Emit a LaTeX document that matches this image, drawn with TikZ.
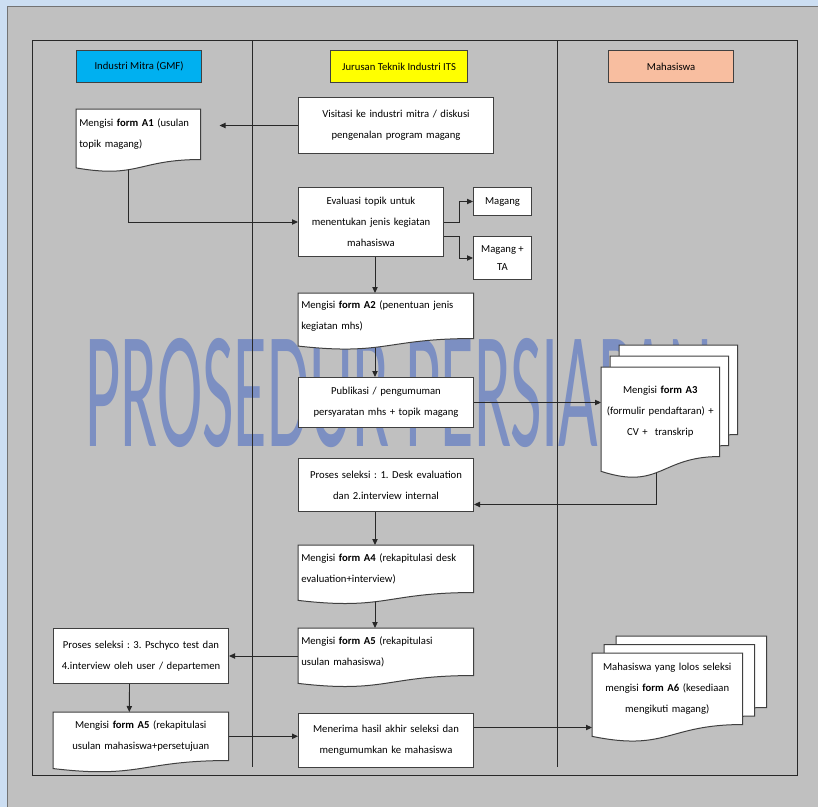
\documentclass[tikz,border=0pt]{standalone}
\usepackage{fontspec}
\setmainfont{Carlito}
\usetikzlibrary{calc,arrows.meta}

\definecolor{pagegrey}{RGB}{192,192,192}
\definecolor{rulerblue}{RGB}{204,222,242}
\definecolor{wmblue}{RGB}{124,143,194}
\definecolor{boxline}{RGB}{64,64,64}
\definecolor{flowline}{RGB}{40,40,40}
\definecolor{hdrcyan}{RGB}{0,176,240}
\definecolor{hdryellow}{RGB}{255,255,0}
\definecolor{hdrpeach}{RGB}{248,190,160}

\pgfdeclarelayer{wmark}
\pgfdeclarelayer{lines}
\pgfdeclarelayer{docs}
\pgfsetlayers{wmark,lines,docs,main}

\newcommand{\flowfont}{\fontsize{8}{15.8}\selectfont\frenchspacing}

\tikzset{
  boxw/.code={\pgfmathsetlengthmacro\boxtw{(#1-6)*0.75pt}\tikzset{text width/.expand once=\boxtw}},
  boxh/.style={minimum height={#1*0.75pt}},
  procbox/.style={draw=boxline, line width=0.75pt, fill=white, align=center, anchor=north west,
    inner xsep=2.25pt, inner ysep=2pt, font=\flowfont},
  docnode/.style={anchor=north west, inner xsep=2.25pt, inner ysep=2pt, font=\flowfont},
  docline/.style={draw=boxline, line width=0.75pt, fill=white},
  header/.style={draw=black!75, line width=0.9pt, anchor=north west, minimum width={125*0.75pt},
    minimum height={32*0.75pt}, font=\flowfont},
  flow/.style={draw=flowline, line width=0.7pt, -{Triangle[length=4.5pt,width=4pt]}},
  lane/.style={draw=flowline, line width=0.7pt},
}

% document outline under a node: name, dx, dy
\newcommand{\docwave}[3]{%
  \path[docline] let \p1=($(#1.north west)+(#2,#3)$), \p2=($(#1.south east)+(#2,#3)$), \n1={\y1-\y2} in
    (\p1) -- (\x2,\y1) -- (\p2) .. controls ({(\x1+\x2)/2},\y2) and ({(\x1+\x2)/2},{\y2-0.38*\n1}) .. (\x1,{\y2-0.165*\n1}) -- cycle;}

\begin{document}
\begin{tikzpicture}[x=0.75pt, y=-0.75pt]
\useasboundingbox (0,0) rectangle (818,807);

% page and watermark
\begin{pgfonlayer}{wmark}
\fill[rulerblue] (0,0) rectangle (818,807);
\fill[pagegrey] (7,6) rectangle (818,807);
\draw[black!55, line width=0.5pt] (7,807) -- (7,6) -- (818,6);
\node[anchor=base west, inner sep=0pt, text=wmblue, font=\fontsize{125}{125}\selectfont] (wm) at (85,446) {\scalebox{0.41}[1]{PROSEDUR PERSIAPAN}};
\end{pgfonlayer}

% swim lanes
\begin{pgfonlayer}{lines}
\draw[lane] (32,40) rectangle (797,775);
\draw[lane] (252,40) -- (252,767);
\draw[lane] (557,40) -- (557,767);
\end{pgfonlayer}

% lane headers
\node[header, fill=hdrcyan] (hdrIM) at (76,50) {Industri Mitra (GMF)};
\node[header, fill=hdryellow, minimum width={137*0.75pt}] (hdrJT) at (330,50) {Jurusan Teknik Industri ITS};
\node[header, fill=hdrpeach] (hdrMhs) at (608,50) {Mahasiswa};

% process boxes
\node[procbox, boxw=195, boxh=56] (visit) at (298,97) {Visitasi ke industri mitra / diskusi\\pengenalan program magang};
\node[procbox, boxw=145, boxh=69] (evalu) at (298,187) {Evaluasi topik untuk\\menentukan jenis kegiatan\\mahasiswa};
\node[procbox, minimum width={58*0.75pt}, boxh=28, inner xsep=1pt] (magang) at (473,187) {Magang};
\node[procbox, minimum width={58*0.75pt}, boxh=43, inner xsep=1pt, font=\fontsize{8}{13.5}\selectfont] (magangTA) at (473,236) {Magang +\\TA};
\node[procbox, boxw=175, boxh=50] (publik) at (298,377) {Publikasi / pengumuman\\persyaratan mhs + topik magang};
\node[procbox, boxw=175, boxh=53] (seleksiA) at (298,458) {Proses seleksi : 1. Desk evaluation\\dan 2.interview internal};
\node[procbox, boxw=175, boxh=55] (seleksiB) at (53,628) {Proses seleksi : 3. Pschyco test dan\\4.interview oleh user / departemen};
\node[procbox, boxw=175, boxh=54] (terima) at (298,713) {Menerima hasil akhir seleksi dan\\mengumumkan ke mahasiswa};

% document texts
\node[docnode, align=left, boxw=124, boxh=50] (formA1) at (76,109) {Mengisi \textbf{form A1} (usulan\\topik magang)};
\node[docnode, align=left, boxw=175, boxh=45] (formA2) at (298,293) {Mengisi \textbf{form A2} (penentuan jenis\\kegiatan mhs)};
\node[docnode, align=center, boxw=118, boxh=89] (formA3) at (601,367) {Mengisi \textbf{form A3}\\(formulir pendaftaran) +\\CV +\ \ transkrip};
\node[docnode, align=left, boxw=175, boxh=47] (formA4) at (298,545) {Mengisi \textbf{form A4} (rekapitulasi desk\\evaluation+interview)};
\node[docnode, align=left, boxw=175, boxh=47] (formA5m) at (298,628) {Mengisi \textbf{form A5} (rekapitulasi\\usulan mahasiswa)};
\node[docnode, align=center, boxw=175, boxh=48] (formA5l) at (53,712) {Mengisi \textbf{form A5} (rekapitulasi\\usulan mahasiswa+persetujuan};
\node[docnode, align=center, boxw=150, boxh=71] (formA6) at (592,653) {Mahasiswa yang lolos seleksi\\mengisi \textbf{form A6} (kesediaan\\mengikuti magang)};

% document outlines
\begin{pgfonlayer}{docs}
\docwave{formA1}{0}{0}
\docwave{formA2}{0}{0}
\docwave{formA4}{0}{0}
\docwave{formA5m}{0}{0}
\docwave{formA5l}{0}{0}
\docwave{formA3}{18}{-22}
\docwave{formA3}{9}{-11}
\docwave{formA3}{0}{0}
\docwave{formA6}{24}{-17}
\docwave{formA6}{12}{-8.5}
\docwave{formA6}{0}{0}
\end{pgfonlayer}

% connectors
\begin{pgfonlayer}{lines}
\coordinate (spine) at (375,0);
\draw[flow, shorten >={19*0.75pt}] (visit.west) -- (visit.west -| formA1.east);
\draw[flow] ([xshift=-7.5pt]formA1.south) |- (evalu.west);
\draw[flow] (evalu.east) -- ++(15,0) |- (magang.west);
\draw[flow] ([yshift=-11pt]evalu.east) -- ++(15,0) |- (magangTA.west);
\draw[flow] (evalu.south -| spine) -- (formA2.north -| spine);
\draw[flow] (formA2.south -| spine) -- (publik.north -| spine);
\draw[flow] (publik.east) -- (publik.east -| formA3.west);
\draw[flow] ([xshift=-3pt]formA3.south) |- ([yshift=-14.6pt]seleksiA.east);
\draw[flow] (seleksiA.south -| spine) -- (formA4.north -| spine);
\draw[flow] (formA4.south -| spine) -- (formA5m.north -| spine);
\draw[flow] (seleksiB.east -| formA5m.west) -- (seleksiB.east);
\draw[flow] ([xshift=-8.6pt]seleksiB.south) -- ([xshift=-8.6pt]formA5l.north);
\draw[flow] (formA5l.east) -- (formA5l.east -| terima.west);
\draw[flow] ([yshift=9.75pt]terima.east) -- ([yshift=9.75pt]terima.east -| formA6.west);
\end{pgfonlayer}
\end{tikzpicture}
\end{document}
